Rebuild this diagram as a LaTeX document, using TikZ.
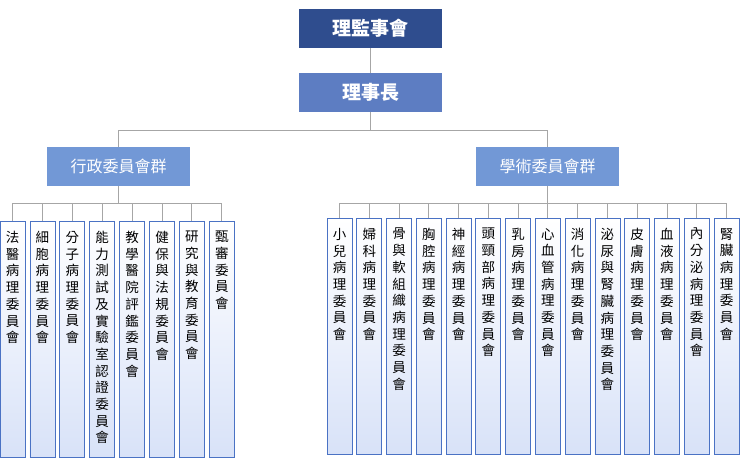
\documentclass[tikz,border=0pt]{standalone}
\usepackage{fontspec}
\setmainfont{Noto Sans CJK TC}
\usetikzlibrary{shadings}
\definecolor{topc}{HTML}{2F4D8E}
\definecolor{midc}{HTML}{5D7DC2}
\definecolor{grpc}{HTML}{7298D6}
\definecolor{bord}{HTML}{4A72C4}
\definecolor{fillb}{HTML}{D8E2F8}
\definecolor{linec}{HTML}{A6A6A6}
\def\vt#1{\vtx#1\relax}
\def\vtx#1{\ifx#1\relax\else#1\\\expandafter\vtx\fi}
\tikzset{
 x=1pt,y=1pt,
 hbox/.style={minimum width=143pt,minimum height=39pt,inner sep=0pt,text=white,font=\bfseries\fontsize{19}{19}\selectfont},
 gbox/.style={minimum width=143pt,minimum height=39pt,inner sep=0pt,text=white,fill=grpc,font=\fontsize{16}{16}\selectfont},
 kid/.style={draw=bord,line width=0.8pt,top color=white,bottom color=fillb,minimum width=25pt,minimum height=236pt,inner sep=0pt,anchor=north},
 kidtxt/.style={anchor=north,align=center,inner sep=0pt,font=\fontsize{13.5}{16.7}\selectfont},
 conn/.style={draw=linec,line width=0.9pt}
}
\begin{document}
\begin{tikzpicture}
\useasboundingbox (0,0) rectangle (740,-470);
\node[hbox,fill=topc] (top) at (370.5,-28.5) {理監事會};
\node[hbox,fill=midc] (pres) at (370.5,-92.5) {理事長};
\node[gbox] (adm) at (118.5,-166.5) {行政委員會群};
\node[gbox] (aca) at (547.5,-166.5) {學術委員會群};
\coordinate (jn) at (370.5,-130);
\draw[conn] (top) -- (pres);
\draw[conn] (pres) -- (jn);
\draw[conn] (jn) -| (adm);
\draw[conn] (jn) -| (aca);
\foreach \t [count=\i] in {法醫病理委員會,細胞病理委員會,分子病理委員會,能力測試及實驗室認證委員會,教學醫院評鑑委員會,健保與法規委員會,研究與教育委員會,甄審委員會}{
 \node[kid] (a\i) at (12.5+29.9*\i-29.9,-221) {};
 \node[kidtxt] (at\i) at ([yshift=-10pt]a\i.north) {\expandafter\vt\expandafter{\t}};
 \draw[conn] (adm.south) -- ++(0,-17) -| (a\i.north);
}
\foreach \t [count=\i] in {小兒病理委員會,婦科病理委員會,骨與軟組織病理委員會,胸腔病理委員會,神經病理委員會,頭頸部病理委員會,乳房病理委員會,心血管病理委員會,消化病理委員會,泌尿與腎臟病理委員會,皮膚病理委員會,血液病理委員會,內分泌病理委員會,腎臟病理委員會}{
 \node[kid] (b\i) at (339.5+29.77*\i-29.77,-218) {};
 \node[kidtxt] (bt\i) at ([yshift=-10pt]b\i.north) {\expandafter\vt\expandafter{\t}};
 \draw[conn] (aca.south) -- ++(0,-17) -| (b\i.north);
}
\end{tikzpicture}
\end{document}
